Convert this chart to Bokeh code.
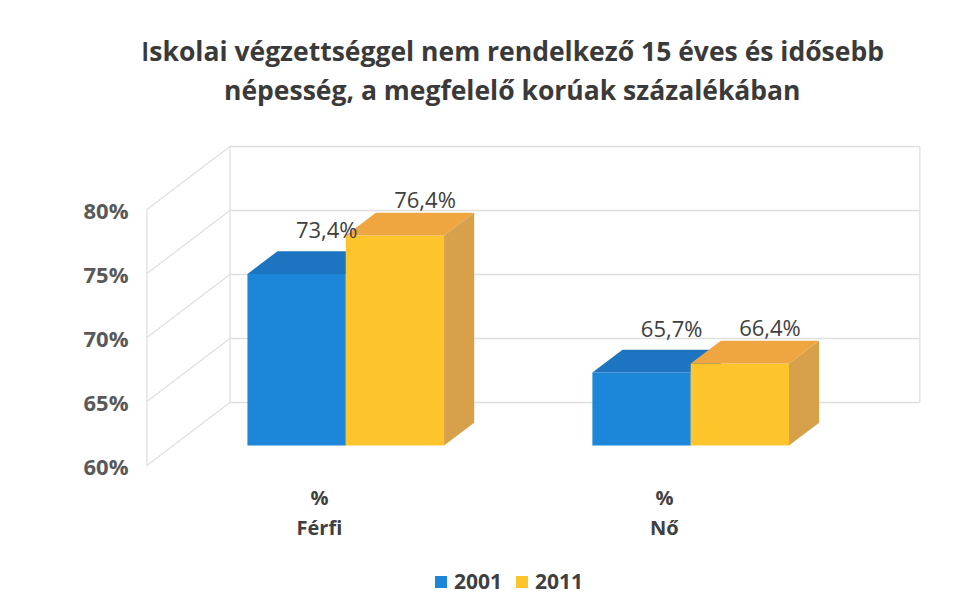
from bokeh.plotting import figure
from bokeh.models import (Range1d, FixedTicker, PrintfTickFormatter, Label,
                          Legend, LegendItem, ColumnDataSource)
from bokeh.embed import file_html
from bokeh.resources import INLINE
from bokeh.core.properties import value

# ---------------- data ----------------
title_lines = ["Iskolai végzettséggel nem rendelkező 15 éves és idősebb",
               "népesség, a megfelelő korúak százalékában"]
categories = ["%\nFérfi", "%\nNő"]
series_names = ["2001", "2011"]
values_2001 = [73.4, 65.7]
values_2011 = [76.4, 66.4]
y_ticks = [60, 65, 70, 75, 80]

series_values = [values_2001, values_2011]
front_colors = ["#1C87D9", "#FDC42B"]
top_colors = ["#1D74C0", "#EFA640"]
side_colors = ["#176AAE", "#D7A04A"]
label_offsets = [-22, -14]

# ---------------- 3D layout constants ----------------
BASE = 60.0
DX, DY = 0.2406, 4.92        # depth vector (x units, y units)
D0, D1 = 0.317, 0.68         # bar front / back depth fractions
W = 0.285                    # bar width
WALL_L, WALL_R = -0.5, 1.5

FONT = "Open Sans"
TXT = "#404040"

p = figure(width=962, height=596, output_backend="svg", toolbar_location=None,
           x_range=Range1d(-0.51, 1.841), y_range=Range1d(49.766, 96.328),
           min_border_left=143, min_border_right=8, min_border_top=0,
           min_border_bottom=0)
p.outline_line_color = None
p.xgrid.visible = False
p.ygrid.visible = False
p.xaxis.visible = False
p.background_fill_color = "white"
p.border_fill_color = "white"

# ---------------- walls ----------------
wall_col = "#E0E0E0"
lo, hi = y_ticks[0], y_ticks[-1]
p.segment(x0=[WALL_L, WALL_L + DX, WALL_R + DX], y0=[lo, lo + DY, lo + DY],
          x1=[WALL_L, WALL_L + DX, WALL_R + DX], y1=[hi, hi + DY, hi + DY],
          line_color=wall_col, line_width=1.3)
p.segment(x0=[WALL_L] * len(y_ticks), y0=y_ticks,
          x1=[WALL_L + DX] * len(y_ticks), y1=[t + DY for t in y_ticks],
          line_color=wall_col, line_width=1.3)
p.segment(x0=[WALL_L + DX] * len(y_ticks), y0=[t + DY for t in y_ticks],
          x1=[WALL_R + DX] * len(y_ticks), y1=[t + DY for t in y_ticks],
          line_color=wall_col, line_width=1.6)

# ---------------- bars ----------------
ex, ey = (D1 - D0) * DX, (D1 - D0) * DY
legend_items = []
for s, vals in enumerate(series_values):
    x0 = [i + (s - 1) * W + D0 * DX for i in range(len(categories))]
    x1 = [a + W for a in x0]
    yb = [BASE + D0 * DY] * len(vals)
    yt = [v + D0 * DY for v in vals]
    front = p.quad(left=x0, right=x1, bottom=yb, top=yt,
                   fill_color=front_colors[s], line_color=None)
    top_src = ColumnDataSource(dict(
        xs=[[a, b, b + ex, a + ex] for a, b in zip(x0, x1)],
        ys=[[t, t, t + ey, t + ey] for t in yt]))
    p.patches("xs", "ys", source=top_src, fill_color=top_colors[s], line_color=None)
    side_src = ColumnDataSource(dict(
        xs=[[b, b + ex, b + ex, b] for b in x1],
        ys=[[bb, bb + ey, t + ey, t] for bb, t in zip(yb, yt)]))
    p.patches("xs", "ys", source=side_src, fill_color=side_colors[s], line_color=None)
    legend_items.append(LegendItem(label=series_names[s], renderers=[front]))

# data labels
for s, vals in enumerate(series_values):
    lx = [i + (s - 0.5) * W + D1 * DX for i in range(len(categories))]
    ly = [v + D1 * DY for v in vals]
    txt = [("%.1f" % v).replace(".", ",") + "%" for v in vals]
    p.text(x=lx, y=ly, text=txt, text_font=value(FONT), text_font_size="22px",
           text_color=TXT, text_align="center", text_baseline="middle",
           y_offset=label_offsets[s])

# category labels (below the floor)
p.text(x=list(range(len(categories))), y=[56.33] * len(categories), text=categories,
       text_font=value(FONT), text_font_style="bold", text_font_size="20px",
       text_color=TXT, text_align="center", text_baseline="middle",
       text_line_height=1.1)

# ---------------- y axis ----------------
p.yaxis.ticker = FixedTicker(ticks=y_ticks)
p.yaxis.formatter = PrintfTickFormatter(format="%d%%")
p.yaxis.axis_line_color = None
p.yaxis.major_tick_line_color = None
p.yaxis.minor_tick_line_color = None
p.yaxis.major_label_standoff = 9
p.yaxis.major_label_text_font = FONT
p.yaxis.major_label_text_font_style = "bold"
p.yaxis.major_label_text_font_size = "22px"
p.yaxis.major_label_text_color = "#595959"

# ---------------- title ----------------
for k, line in enumerate(title_lines):
    p.add_layout(Label(x=0.559, y=92.42 - k * 3.12, text=line, text_align="center",
                       text_baseline="middle", text_font=FONT, text_font_style="bold",
                       text_font_size="26.5px", text_color="#3A3A3A"))

# ---------------- legend ----------------
legend = Legend(items=legend_items, orientation="horizontal", location=(290, 1),
                label_text_font=FONT, label_text_font_style="bold",
                label_text_font_size="21px", label_text_color=TXT,
                glyph_width=15, glyph_height=15, spacing=12, label_standoff=6,
                padding=4, margin=0, border_line_color=None,
                background_fill_alpha=0)
p.add_layout(legend)

open("out.html", "w").write(file_html(p, INLINE))
